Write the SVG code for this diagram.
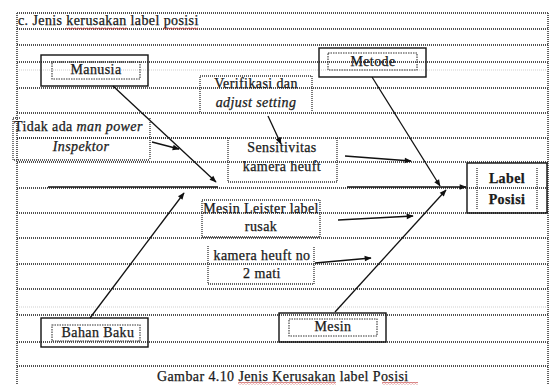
<svg xmlns="http://www.w3.org/2000/svg" width="551" height="385" viewBox="0 0 551 385">
  <defs>
    <style>
      .grid { stroke: #505050; stroke-width: 1.8; stroke-dasharray: 1 1; fill: none; }
      .faint { stroke: #cfcfcf; stroke-width: 1.2; stroke-dasharray: 1 1; fill: none; }
      .dot { stroke: #333; stroke-width: 1.3; stroke-dasharray: 1 1; fill: none; }
      .frame { stroke: #111; stroke-width: 1.4; fill: none; }
      .inner { stroke: #333; stroke-width: 1.1; stroke-dasharray: 1.5 1; fill: none; }
      .conn { stroke: #111; stroke-width: 1.3; fill: none; }
      text { font-family: "Liberation Serif", "Times New Roman", serif; font-size: 14px; fill: #1a1a1a; stroke: #1a1a1a; stroke-width: 0.25; letter-spacing: 0.4px; }
      .c { text-anchor: middle; }
      .i { font-style: italic; }
      .b { font-weight: bold; }
    </style>
    <marker id="arrow" viewBox="0 0 10 10" refX="9" refY="5" markerWidth="8" markerHeight="7" markerUnits="userSpaceOnUse" orient="auto">
      <path d="M0,1 L10,5 L0,9 Z" fill="#111"/>
    </marker>
    <pattern id="wave" width="3" height="3" patternUnits="userSpaceOnUse">
      <path d="M0,0.5 L1.5,2.3 L3,0.5" stroke="#c03030" stroke-width="0.9" fill="none"/>
    </pattern>
  </defs>

  <rect width="551" height="385" fill="#ffffff"/>

  <!-- page table grid -->
  <g id="grid">
    <line class="grid" x1="17" y1="13" x2="548" y2="13"/>
    <line class="grid" x1="17" y1="13" x2="17" y2="385"/>
    <line class="grid" x1="548" y1="13" x2="548" y2="385"/>
    <line class="grid" x1="17" y1="29" x2="548" y2="29"/>
    <line class="grid" x1="17" y1="45" x2="548" y2="45"/>
    <line class="grid" x1="17" y1="62" x2="548" y2="62"/>
    <line class="faint" x1="17" y1="70" x2="548" y2="70"/>
    <line class="grid" x1="17" y1="88" x2="548" y2="88"/>
    <line class="grid" x1="17" y1="113" x2="548" y2="113"/>
    <line class="grid" x1="17" y1="138" x2="548" y2="138"/>
    <line class="grid" x1="17" y1="162" x2="548" y2="162"/>
    <line class="grid" x1="17" y1="188" x2="548" y2="188"/>
    <line class="grid" x1="17" y1="213" x2="548" y2="213"/>
    <line class="grid" x1="17" y1="238" x2="548" y2="238"/>
    <line class="grid" x1="17" y1="264" x2="548" y2="264"/>
    <line class="grid" x1="17" y1="289" x2="548" y2="289"/>
    <line class="faint" x1="17" y1="307" x2="548" y2="307"/>
    <line class="grid" x1="17" y1="315" x2="548" y2="315"/>
    <line class="grid" x1="17" y1="342" x2="548" y2="342"/>
    <line class="grid" x1="17" y1="366" x2="548" y2="366"/>
  </g>

  <!-- heading -->
  <g id="heading">
    <text x="18" y="25">c. Jenis kerusakan label posisi</text>
    <rect x="66" y="27" width="61" height="3" fill="url(#wave)"/>
    <rect x="163" y="27" width="35" height="3" fill="url(#wave)"/>
  </g>

  <!-- connectors -->
  <g id="connectors">
    <line class="conn" x1="48" y1="187" x2="218" y2="187"/>
    <line class="conn" x1="347" y1="187" x2="466" y2="187" marker-end="url(#arrow)"/>
    <line class="conn" x1="113" y1="86" x2="216" y2="182" marker-end="url(#arrow)"/>
    <line class="conn" x1="372" y1="77" x2="440" y2="186" marker-end="url(#arrow)"/>
    <line class="conn" x1="90" y1="318" x2="184" y2="193" marker-end="url(#arrow)"/>
    <line class="conn" x1="335" y1="312" x2="446" y2="190" marker-end="url(#arrow)"/>
    <line class="conn" x1="152" y1="142" x2="179" y2="149" marker-end="url(#arrow)"/>
    <line class="conn" x1="268" y1="116" x2="281" y2="144" marker-end="url(#arrow)"/>
    <line class="conn" x1="345" y1="156" x2="411" y2="161" marker-end="url(#arrow)"/>
    <line class="conn" x1="338" y1="220" x2="413" y2="216" marker-end="url(#arrow)"/>
    <line class="conn" x1="315" y1="263" x2="371" y2="258" marker-end="url(#arrow)"/>
  </g>

  <!-- category heads -->
  <g id="manusia">
    <rect class="frame" x="41" y="55" width="107" height="31"/>
    <rect class="inner" x="52" y="62" width="88" height="17"/>
    <text class="c" x="96" y="74">Manusia</text>
  </g>

  <g id="metode">
    <rect class="frame" x="319" y="48" width="107" height="29"/>
    <rect class="inner" x="328" y="53" width="89" height="17"/>
    <text class="c" x="373" y="66">Metode</text>
  </g>

  <g id="bahan-baku">
    <rect class="frame" x="41" y="318" width="107" height="29"/>
    <rect class="inner" x="52" y="325" width="88" height="16"/>
    <text class="c" x="98" y="337">Bahan Baku</text>
  </g>

  <g id="mesin">
    <rect class="frame" x="279" y="313" width="107" height="29"/>
    <rect class="inner" x="289" y="319" width="88" height="17"/>
    <text class="c" x="333" y="331">Mesin</text>
  </g>

  <!-- effect -->
  <g id="label-posisi">
    <rect class="frame" x="467" y="163" width="80" height="50"/>
    <line class="dot" x1="477" y1="168" x2="477" y2="210"/>
    <line class="dot" x1="537" y1="168" x2="537" y2="210"/>
    <text class="c b" x="507" y="183">Label</text>
    <text class="c b" x="507" y="204">Posisi</text>
  </g>

  <!-- causes -->
  <g id="verifikasi">
    <path class="dot" d="M200,112 V76 H312 V112"/>
    <text class="c" x="256" y="88">Verifikasi dan</text>
    <text class="c i" x="256" y="107">adjust setting</text>
  </g>

  <g id="tidak-ada-man-power">
    <path class="dot" d="M20,118 H13 V160 H150 M150,118 V160"/>
    <line class="dot" x1="17" y1="138" x2="228" y2="138"/>
    <text x="14" y="131">Tidak ada <tspan class="i">man power</tspan></text>
    <text class="c i" x="81" y="151">Inspektor</text>
  </g>

  <g id="sensitivitas">
    <path class="dot" d="M228,138 V182 H337 V138"/>
    <text class="c" x="282" y="152">Sensitivitas</text>
    <text class="c" x="282" y="171">kamera heuft</text>
  </g>

  <g id="mesin-leister">
    <rect class="dot" x="202" y="200" width="118" height="37"/>
    <text class="c" x="261" y="213">Mesin Leister label</text>
    <text class="c" x="261" y="231">rusak</text>
  </g>

  <g id="kamera-heuft-no2">
    <path class="dot" d="M208,246 V284 H314 V246"/>
    <text class="c" x="262" y="260">kamera heuft no</text>
    <text class="c" x="262" y="278">2 mati</text>
  </g>

  <!-- caption -->
  <g id="caption">
    <text x="157" y="381">Gambar 4.10 Jenis Kerusakan label Posisi</text>
    <rect x="238" y="382" width="98" height="3" fill="url(#wave)"/>
    <rect x="382" y="382" width="36" height="3" fill="url(#wave)"/>
  </g>
</svg>
